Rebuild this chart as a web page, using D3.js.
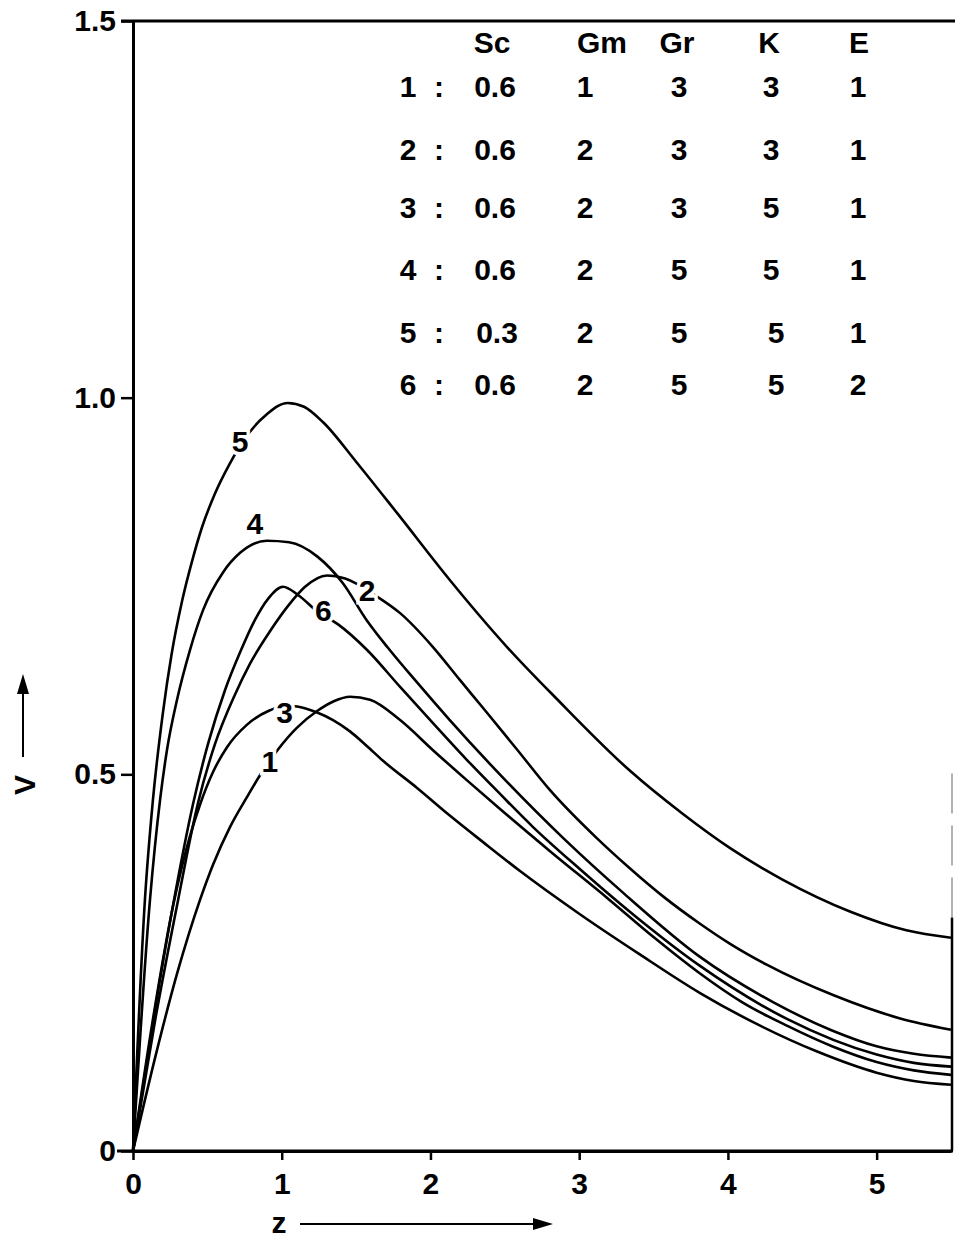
<!DOCTYPE html>
<html>
<head>
<meta charset="utf-8">
<script src="https://cdn.jsdelivr.net/npm/d3@7"></script>
<style>
  html, body { margin: 0; padding: 0; background: #fff; }
  svg text { font-family: "Liberation Sans", Arial, sans-serif; font-weight: bold; fill: #000; }
</style>
</head>
<body>
<div id="chart"></div>
<script>
// velocity profiles V(z)
const curve1 = [[0,0],[0.15,0.125],[0.3,0.238],[0.45,0.333],[0.538,0.38],[0.652,0.43],[0.767,0.47],[0.874,0.505],[0.975,0.533],[1.103,0.562],[1.238,0.584],[1.35,0.597],[1.46,0.603],[1.594,0.599],[1.796,0.572],[2.017,0.532],[2.246,0.492],[2.468,0.454],[2.804,0.398],[3.2,0.334],[3.5,0.284],[3.81,0.236],[4.1,0.197],[4.4,0.166],[4.7,0.139],[5.0,0.118],[5.25,0.107],[5.5,0.101]];
const curve2 = [[0,0],[0.15,0.175],[0.303,0.333],[0.437,0.462],[0.551,0.54],[0.686,0.606],[0.787,0.647],[0.921,0.69],[1.056,0.727],[1.157,0.749],[1.305,0.764],[1.426,0.76],[1.641,0.736],[1.796,0.714],[2.017,0.669],[2.199,0.625],[2.354,0.588],[2.582,0.533],[2.804,0.479],[3.12,0.415],[3.342,0.375],[3.564,0.338],[3.81,0.302],[4.015,0.275],[4.264,0.247],[4.707,0.207],[5.158,0.176],[5.5,0.161]];
const curve3 = [[0,0],[0.13,0.17],[0.269,0.325],[0.383,0.418],[0.451,0.46],[0.538,0.503],[0.632,0.536],[0.767,0.566],[0.921,0.585],[1.02,0.591],[1.103,0.59],[1.238,0.582],[1.345,0.572],[1.459,0.557],[1.57,0.538],[1.681,0.518],[1.91,0.482],[2.132,0.445],[2.354,0.41],[2.6,0.372],[3.0,0.315],[3.4,0.262],[3.81,0.21],[4.2,0.168],[4.6,0.132],[5.0,0.104],[5.25,0.093],[5.5,0.088]];
const curve4 = [[0,0],[0.114,0.333],[0.182,0.466],[0.229,0.533],[0.296,0.599],[0.383,0.665],[0.471,0.718],[0.605,0.768],[0.72,0.794],[0.9,0.81],[1.05,0.808],[1.24,0.789],[1.41,0.754],[1.57,0.705],[1.71,0.669],[1.91,0.622],[2.13,0.572],[2.5,0.493],[2.9,0.414],[3.3,0.342],[3.81,0.258],[4.3,0.198],[4.7,0.16],[5.0,0.139],[5.25,0.129],[5.5,0.124]];
const curve5 = [[0,0],[0.08,0.333],[0.134,0.466],[0.2,0.58],[0.26,0.66],[0.33,0.73],[0.4,0.785],[0.464,0.828],[0.55,0.872],[0.65,0.912],[0.75,0.945],[0.9,0.978],[1.04,0.993],[1.15,0.988],[1.28,0.967],[1.5,0.915],[1.775,0.847],[2.13,0.758],[2.515,0.669],[2.85,0.6],[3.34,0.505],[3.7,0.447],[4.015,0.402],[4.37,0.36],[4.82,0.318],[5.2,0.293],[5.5,0.283]];
const curve6 = [[0,0],[0.15,0.19],[0.282,0.34],[0.403,0.46],[0.504,0.54],[0.619,0.612],[0.72,0.662],[0.82,0.705],[0.908,0.733],[1.009,0.749],[1.11,0.738],[1.24,0.716],[1.379,0.699],[1.574,0.665],[1.796,0.616],[2.017,0.568],[2.246,0.519],[2.468,0.474],[2.69,0.43],[3.0,0.375],[3.4,0.308],[3.81,0.246],[4.4,0.175],[5.0,0.128],[5.25,0.117],[5.5,0.112]];

const curves = [curve1, curve2, curve3, curve4, curve5, curve6];

// where each curve number sits (z, V)
const curveIds = ["1", "2", "3", "4", "5", "6"];
const labelZ = [0.92, 1.574, 1.02, 0.82, 0.72, 1.28];
const labelV = [0.517, 0.745, 0.583, 0.834, 0.942, 0.718];

// parameter table
const paramNames = ["Sc", "Gm", "Gr", "K", "E"];
const scValues = [0.6, 0.6, 0.6, 0.6, 0.3, 0.6];
const gmValues = [1, 2, 2, 2, 2, 2];
const grValues = [3, 3, 3, 5, 5, 5];
const kValues = [3, 3, 5, 5, 5, 5];
const eValues = [1, 1, 1, 1, 1, 2];

const xTicks = [0, 1, 2, 3, 4, 5];
const yTicks = [0, 0.5, 1.0, 1.5];

const width = 955;
const height = 1241;

const svg = d3.select("#chart")
  .append("svg")
  .attr("width", width)
  .attr("height", height);

const x = d3.scaleLinear().domain([0, 5.5]).range([133, 951]);
const y = d3.scaleLinear().domain([0, 1.5]).range([1151, 21]);

// AXES
const xAxis = d3.axisBottom(x)
  .tickValues(xTicks)
  .tickFormat(d3.format("d"))
  .tickSize(9)
  .tickSizeOuter(0)
  .tickPadding(13);

const yAxis = d3.axisLeft(y)
  .tickValues(yTicks)
  .tickFormat(d => d === 0 ? "0" : d3.format(".1f")(d))
  .tickSize(12)
  .tickSizeOuter(0)
  .tickPadding(5);

const gx = svg.append("g")
  .attr("transform", "translate(0," + y(0) + ")")
  .call(xAxis);

const gy = svg.append("g")
  .attr("transform", "translate(" + x(0) + ",0)")
  .call(yAxis);

[gx, gy].forEach(g => {
  g.select(".domain").attr("stroke", "#000").attr("stroke-width", 3);
  g.selectAll(".tick line").attr("stroke", "#000").attr("stroke-width", 2.5);
  g.selectAll(".tick text")
    .attr("fill", "#000")
    .style("font-size", "30px");
});

// bottom line runs a bit left of the axis, top line closes the frame
svg.append("line")
  .attr("x1", x(0) - 16).attr("x2", x(5.5) + 2)
  .attr("y1", y(0)).attr("y2", y(0))
  .attr("stroke", "#000").attr("stroke-width", 3);

svg.append("line")
  .attr("x1", x(0) - 12).attr("x2", width)
  .attr("y1", y(1.5)).attr("y2", y(1.5))
  .attr("stroke", "#000").attr("stroke-width", 3);

svg.append("line")
  .attr("x1", x(5.5) + 1).attr("x2", x(5.5) + 1)
  .attr("y1", y(0)).attr("y2", y(0.31))
  .attr("stroke", "#000").attr("stroke-width", 2.5);

svg.append("line")
  .attr("x1", x(5.5) + 1).attr("x2", x(5.5) + 1)
  .attr("y1", y(0.31)).attr("y2", y(0.51))
  .attr("stroke", "#999").attr("stroke-width", 1.5)
  .attr("stroke-dasharray", "40,12");

// CURVES
const line = d3.line()
  .x(d => x(d[0]))
  .y(d => y(d[1]))
  .curve(d3.curveMonotoneX);

svg.append("g")
  .selectAll("path")
  .data(curves)
  .join("path")
  .attr("d", line)
  .attr("fill", "none")
  .attr("stroke", "#000")
  .attr("stroke-width", 2.6)
  .attr("stroke-linejoin", "round");

// CURVE NUMBERS (white halo breaks the line under them)
svg.append("g")
  .selectAll("text")
  .data(curveIds)
  .join("text")
  .attr("x", (d, i) => x(labelZ[i]))
  .attr("y", (d, i) => y(labelV[i]))
  .attr("dy", "0.36em")
  .attr("text-anchor", "middle")
  .style("font-size", "30px")
  .style("paint-order", "stroke")
  .attr("stroke", "#fff")
  .attr("stroke-width", 7)
  .text(d => d);

// AXIS TITLES
svg.append("text")
  .attr("transform", "translate(24,785) rotate(-90)")
  .attr("text-anchor", "middle")
  .attr("dy", "0.36em")
  .style("font-size", "30px")
  .text("V");

svg.append("line")
  .attr("x1", 23).attr("x2", 23)
  .attr("y1", 757).attr("y2", 690)
  .attr("stroke", "#000").attr("stroke-width", 2);
svg.append("path")
  .attr("d", "M23,674 L17,694 L29,694 Z")
  .attr("fill", "#000");

svg.append("text")
  .attr("x", 279)
  .attr("y", 1233)
  .attr("text-anchor", "middle")
  .style("font-size", "30px")
  .text("z");

svg.append("line")
  .attr("x1", 300).attr("x2", 535)
  .attr("y1", 1224).attr("y2", 1224)
  .attr("stroke", "#000").attr("stroke-width", 2);
svg.append("path")
  .attr("d", "M553,1224 L533,1218 L533,1230 Z")
  .attr("fill", "#000");

// PARAMETER TABLE
const headerX = [492, 602, 677, 769, 859];
const valueX = [495, 585, 679, 771, 858];
const rowY = [97, 160, 218, 280, 343, 395];
const table = svg.append("g").style("font-size", "30px");

table.selectAll("text.head")
  .data(paramNames)
  .join("text")
  .attr("class", "head")
  .attr("x", (d, i) => headerX[i])
  .attr("y", 53)
  .attr("text-anchor", "middle")
  .text(d => d);

const rows = curveIds.map((id, i) => [
  d3.format(".1f")(scValues[i]), gmValues[i], grValues[i], kValues[i], eValues[i]
]);

rows.forEach((vals, r) => {
  table.append("text")
    .attr("x", 408).attr("y", rowY[r])
    .attr("text-anchor", "middle")
    .text(curveIds[r]);
  table.append("text")
    .attr("x", 439).attr("y", rowY[r])
    .attr("text-anchor", "middle")
    .text(":");
  vals.forEach((v, c) => {
    const shift = (c === 3 && r >= 4) ? 5 : (c === 0 && r === 4 ? 2 : 0);
    table.append("text")
      .attr("x", valueX[c] + shift)
      .attr("y", rowY[r])
      .attr("text-anchor", "middle")
      .text(v);
  });
});
</script>
</body>
</html>
